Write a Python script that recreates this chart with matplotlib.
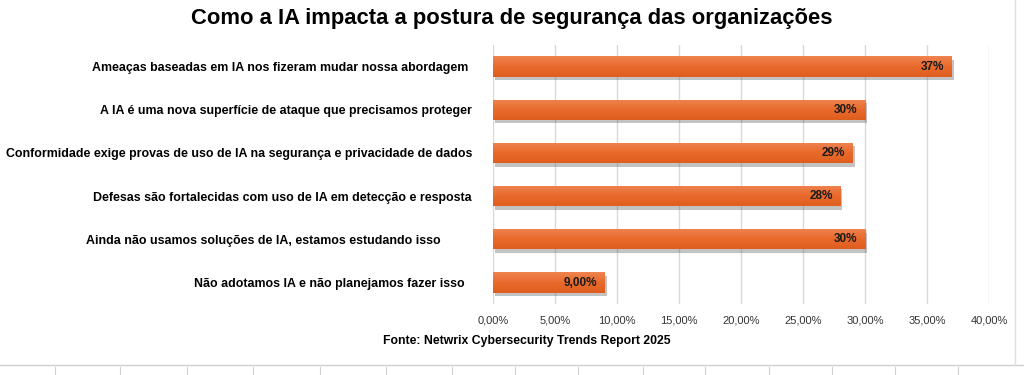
import numpy as np
import matplotlib.pyplot as plt
import matplotlib.patheffects as pe
from matplotlib.colors import LinearSegmentedColormap
from matplotlib.ticker import FuncFormatter
from matplotlib.lines import Line2D

# dados do grafico (os espacos finais vem do rotulo original)
categorias = [
    "Ameaças baseadas em IA nos fizeram mudar nossa abordagem ",
    "A IA é uma nova superfície de ataque que precisamos proteger",
    "Conformidade exige provas de uso de IA na segurança e privacidade de dados",
    "Defesas são fortalecidas com uso de IA em detecção e resposta",
    "Ainda não usamos soluções de IA, estamos estudando isso         ",
    "Não adotamos IA e não planejamos fazer isso  ",
]
valores = [0.37, 0.30, 0.29, 0.28, 0.30, 0.09]
rotulos = ["37%", "30%", "29%", "28%", "30%", "9,00%"]

titulo = "Como a IA impacta a postura de segurança das organizações"
fonte = "Fonte: Netwrix Cybersecurity Trends Report 2025"

plt.rcParams['font.family'] = ['Liberation Sans', 'DejaVu Sans']

fig = plt.figure(figsize=(10.24, 3.75), dpi=100)
ax = fig.add_axes([0.4814, 0.189, 0.4844, 0.691])

y = list(range(len(categorias)))
barras = ax.barh(y, valores, height=0.47, color='#E9682A', zorder=3)
degrade = LinearSegmentedColormap.from_list('lar', ['#F08450', '#E86A2C', '#DE5E1E'])
grad = np.linspace(0, 1, 50).reshape(-1, 1)
for b in barras:
    b.set_path_effects([pe.SimplePatchShadow(offset=(1.5, -2.5), shadow_rgbFace='#555555', alpha=0.35), pe.Normal()])
    x0, y0 = b.get_x(), b.get_y()
    w, h = b.get_width(), b.get_height()
    im = ax.imshow(grad, cmap=degrade, aspect='auto', extent=(x0, x0 + w, y0 + h, y0),
                   origin='upper', zorder=3.5)
    im.set_clip_path(b)

for yi, v, r in zip(y, valores, rotulos):
    ax.text(v - 0.006, yi, r, ha='right', va='center', fontsize=8.5,
            fontweight='bold', color='#1a1a1a', zorder=4)

ax.set_yticks(y)
ax.set_yticklabels(categorias, fontsize=8.9, fontweight='bold')
ax.set_ylim(len(categorias) - 0.5, -0.5)
ax.set_xlim(0, 0.40)
ax.set_xticks([i * 0.05 for i in range(9)])
ax.xaxis.set_major_formatter(FuncFormatter(lambda x, p: f"{x*100:.2f}%".replace('.', ',')))
ax.tick_params(axis='x', labelsize=8, colors='#333333', length=0, pad=8)
ax.tick_params(axis='y', length=0, pad=15)
ax.grid(axis='x', color='#d9d9d9', linewidth=1, zorder=0)
for s in ax.spines.values():
    s.set_visible(False)

fig.text(0.5, 0.95, titulo, ha='center', va='center', fontsize=15.8, fontweight='bold')
fig.text(0.514, 0.09, fonte, ha='center', va='center', fontsize=8.8, fontweight='bold')

# bordas da planilha
fig.add_artist(Line2D([0, 1], [0.027, 0.027], color='#d0d0d0', lw=1))
fig.add_artist(Line2D([0.991, 0.991], [0.027, 1], color='#e0e0e0', lw=1))
for xc in [55, 120, 187, 253, 320, 386, 452, 515, 578, 643, 705, 769, 832, 895, 958]:
    fig.add_artist(Line2D([xc / 1024, xc / 1024], [0, 0.022], color='#d0d0d0', lw=0.8))

fig.savefig('out.png', dpi=100, facecolor='white')
